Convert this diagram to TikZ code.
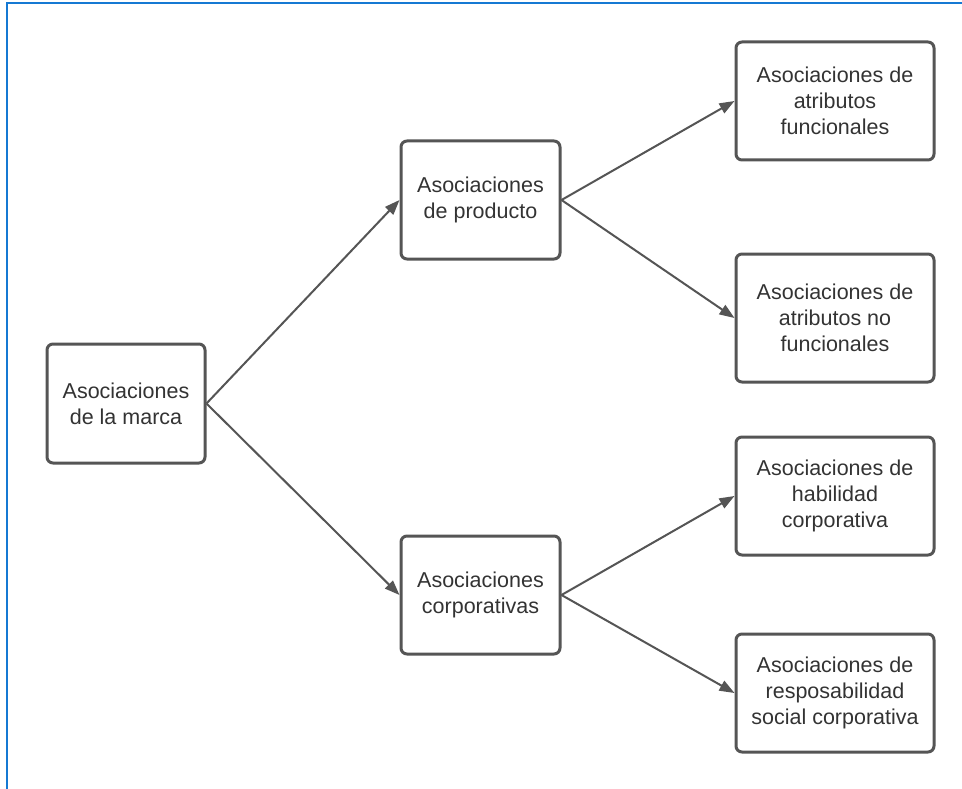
\documentclass[tikz,border=0pt]{standalone}
\usepackage{fontspec}
\setmainfont{Liberation Sans}
\usetikzlibrary{arrows.meta}
\definecolor{frameblue}{RGB}{21,121,211}
\definecolor{inkgray}{RGB}{85,85,85}
\definecolor{textgray}{RGB}{51,51,51}
\begin{document}
\begin{tikzpicture}[x=1pt,y=-1pt,
  box/.style={draw=inkgray, line width=3pt, rounded corners=6pt, fill=white,
    minimum width=#1, align=center, inner sep=0pt, text=textgray,
    font=\fontsize{21.5}{26}\selectfont},
  box/.default=158pt,
  link/.style={draw=inkgray, line width=2pt,
    -{Triangle[length=15pt,width=11pt]}}]
  % canvas and the blue frame along the top and left edges
  \path[fill=white] (0,0) rectangle (962,789);
  \useasboundingbox (0,0) rectangle (962,789);
  \draw[frameblue, line width=2.5pt] (7,789) -- (7,3) -- (962,3);

  % boxes
  \node[box=158pt, minimum height=119pt] (marca) at (126,403.5) {Asociaciones\\de la marca};
  \node[box=159pt, minimum height=118pt] (prod) at (480.5,200) {Asociaciones\\de producto};
  \node[box=159pt, minimum height=118pt] (corp) at (480.5,595) {Asociaciones\\corporativas};
  \node[box=198pt, minimum height=118pt] (func) at (835,101) {Asociaciones de\\atributos\\funcionales};
  \node[box=198pt, minimum height=128pt] (nofunc) at (835,318) {Asociaciones de\\atributos no\\funcionales};
  \node[box=198pt, minimum height=118pt] (hab) at (835,496) {Asociaciones de\\habilidad\\corporativa};
  \node[box=198pt, minimum height=118pt] (resp) at (835,693) {Asociaciones de\\resposabilidad\\social corporativa};

  % connectors
  \draw[link] (marca.east) -- (prod.west);
  \draw[link] (marca.east) -- (corp.west);
  \draw[link] (prod.east) -- (func.west);
  \draw[link] (prod.east) -- (nofunc.west);
  \draw[link] (corp.east) -- (hab.west);
  \draw[link] (corp.east) -- (resp.west);
\end{tikzpicture}
\end{document}
